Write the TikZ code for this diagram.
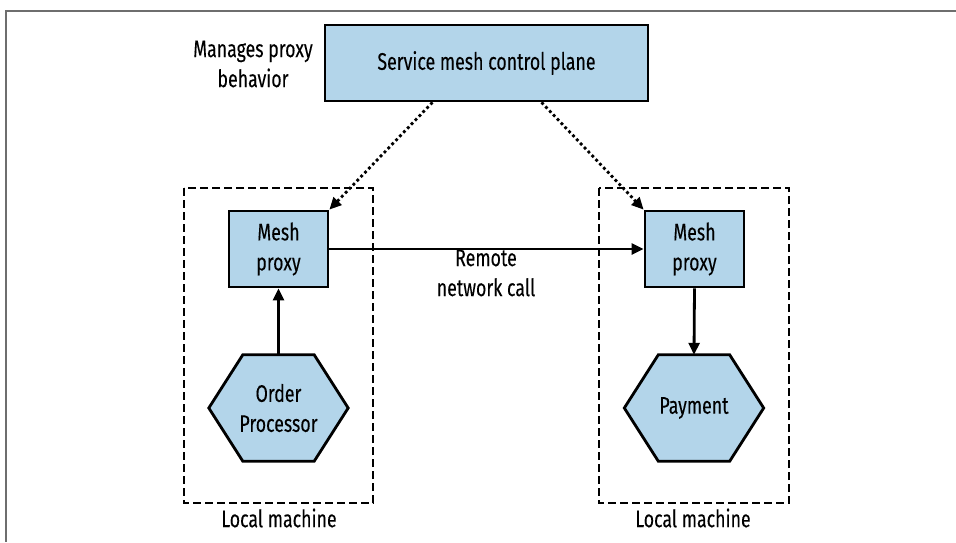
\documentclass[tikz,border=0pt]{standalone}
\usepackage{fontspec}
\setmainfont[FakeStretch=0.74,FakeBold=0.12]{Fira Sans}
\usetikzlibrary{arrows.meta,calc,backgrounds}
\definecolor{boxblue}{RGB}{179,213,234}
\definecolor{framegray}{RGB}{110,110,110}
\begin{document}
\begin{tikzpicture}[x=1pt,y=-1pt,
  txt/.style={font=\fontsize{24}{30}\selectfont, align=center, inner sep=0pt},
  bluebox/.style={txt, draw=black, fill=boxblue, line width=2.8pt},
  hexnode/.style={txt, minimum width=139pt, minimum height=106pt},
  hexshape/.style={draw=black, fill=boxblue, line width=2.8pt, line join=miter},
  machine/.style={draw=black, line width=2.8pt, dash pattern=on 8pt off 4pt},
  arr/.style={line width=2.8pt, -{Triangle[length=12pt,width=11pt]}},
  dotarr/.style={line width=2.8pt, dash pattern=on 2.8pt off 2.8pt, -{Triangle[length=12pt,width=11pt]}}
]
\useasboundingbox (0,0) rectangle (956,542);
% page frame
\draw[framegray, line width=2pt] (956,11) -- (6,11) -- (6,542);

% dashed machine boxes
\draw[machine] (184,188) rectangle (373,503);
\draw[machine] (599,188) rectangle (789,503);

% nodes
\node[bluebox, minimum width=323pt, minimum height=76pt] (cp) at (486.5,63) {Service mesh control plane};
\node[txt] (note) at (253,64) {Manages proxy\\behavior};
\node[bluebox, minimum width=99pt, minimum height=76pt] (mpl) at (278.5,249) {Mesh\\proxy};
\node[bluebox, minimum width=99pt, minimum height=76pt] (mpr) at (694.5,249) {Mesh\\proxy};
\node[hexnode] (op) at (278.5,408) {Order\\Processor};
\node[hexnode] (pay) at (694,408) {Payment};
\node[txt] (lml) at (279,518) {Local machine};
\node[txt] (lmr) at (693,518) {Local machine};
\node[txt] (rnc) at (486,273) {Remote\\network call};

\begin{pgfonlayer}{background}
\draw[hexshape] (op.west) -- ([xshift=34pt]op.north west) -- ([xshift=-34pt]op.north east)
  -- (op.east) -- ([xshift=-34pt]op.south east) -- ([xshift=34pt]op.south west) -- cycle;
\draw[hexshape] (pay.west) -- ([xshift=34pt]pay.north west) -- ([xshift=-34pt]pay.north east)
  -- (pay.east) -- ([xshift=-34pt]pay.south east) -- ([xshift=34pt]pay.south west) -- cycle;
\end{pgfonlayer}

% connectors
\draw[dotarr] ($(cp.south west)!0.334!(cp.south east)$) -- (mpl.north east);
\draw[dotarr] ($(cp.south west)!0.669!(cp.south east)$) -- (mpr.north west);
\draw[arr] (mpl.east) -- (mpr.west);
\draw[arr] (op.north) -- (mpl.south);
\draw[arr] (mpr.south) -- (pay.north);
\end{tikzpicture}
\end{document}
